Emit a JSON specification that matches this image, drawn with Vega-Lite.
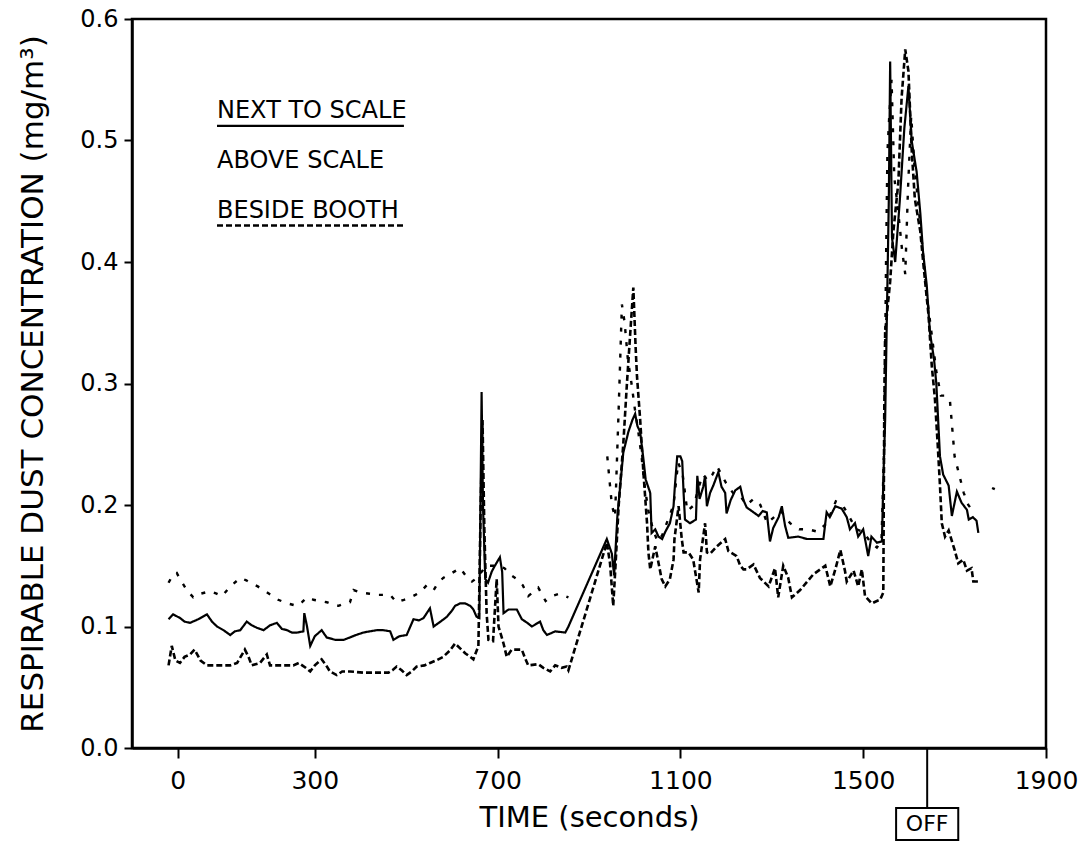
{
  "$schema": "https://vega.github.io/schema/vega-lite/v6.json",
  "width": 914,
  "height": 729,
  "autosize": {"type": "none"},
  "padding": {"left": 132, "top": 19, "right": 32, "bottom": 97},
  "background": "white",
  "config": {
    "font": "DejaVu Sans",
    "view": {"stroke": "black", "strokeWidth": 2.5},
    "axis": {"domainColor": "black", "domainWidth": 2.5, "tickColor": "black", "tickWidth": 2, "labelColor": "black", "titleColor": "black", "grid": false, "labelFont": "DejaVu Sans", "titleFont": "DejaVu Sans", "titleFontWeight": "normal"}
  },
  "datasets": {
    "series": [
      {"t": -20, "v": 0.106, "s": "NEXT TO SCALE", "seg": 1}, {"t": -10, "v": 0.110, "s": "NEXT TO SCALE", "seg": 1}, {"t": 5, "v": 0.107, "s": "NEXT TO SCALE", "seg": 1}, {"t": 15, "v": 0.104, "s": "NEXT TO SCALE", "seg": 1}, {"t": 27, "v": 0.103, "s": "NEXT TO SCALE", "seg": 1}, {"t": 45, "v": 0.106, "s": "NEXT TO SCALE", "seg": 1}, {"t": 64, "v": 0.110, "s": "NEXT TO SCALE", "seg": 1}, {"t": 75, "v": 0.104, "s": "NEXT TO SCALE", "seg": 1}, {"t": 86, "v": 0.100, "s": "NEXT TO SCALE", "seg": 1}, {"t": 100, "v": 0.097, "s": "NEXT TO SCALE", "seg": 1}, {"t": 115, "v": 0.093, "s": "NEXT TO SCALE", "seg": 1}, {"t": 125, "v": 0.096, "s": "NEXT TO SCALE", "seg": 1}, {"t": 137, "v": 0.097, "s": "NEXT TO SCALE", "seg": 1}, {"t": 151, "v": 0.104, "s": "NEXT TO SCALE", "seg": 1}, {"t": 162, "v": 0.101, "s": "NEXT TO SCALE", "seg": 1}, {"t": 173, "v": 0.099, "s": "NEXT TO SCALE", "seg": 1}, {"t": 188, "v": 0.097, "s": "NEXT TO SCALE", "seg": 1}, {"t": 202, "v": 0.101, "s": "NEXT TO SCALE", "seg": 1}, {"t": 217, "v": 0.103, "s": "NEXT TO SCALE", "seg": 1}, {"t": 228, "v": 0.098, "s": "NEXT TO SCALE", "seg": 1}, {"t": 239, "v": 0.097, "s": "NEXT TO SCALE", "seg": 1}, {"t": 250, "v": 0.095, "s": "NEXT TO SCALE", "seg": 1}, {"t": 261, "v": 0.095, "s": "NEXT TO SCALE", "seg": 1}, {"t": 275, "v": 0.096, "s": "NEXT TO SCALE", "seg": 1}, {"t": 277, "v": 0.111, "s": "NEXT TO SCALE", "seg": 1}, {"t": 283, "v": 0.100, "s": "NEXT TO SCALE", "seg": 1}, {"t": 290, "v": 0.084, "s": "NEXT TO SCALE", "seg": 1}, {"t": 300, "v": 0.092, "s": "NEXT TO SCALE", "seg": 1}, {"t": 315, "v": 0.097, "s": "NEXT TO SCALE", "seg": 1}, {"t": 326, "v": 0.091, "s": "NEXT TO SCALE", "seg": 1}, {"t": 345, "v": 0.089, "s": "NEXT TO SCALE", "seg": 1}, {"t": 363, "v": 0.089, "s": "NEXT TO SCALE", "seg": 1}, {"t": 377, "v": 0.091, "s": "NEXT TO SCALE", "seg": 1}, {"t": 390, "v": 0.093, "s": "NEXT TO SCALE", "seg": 1}, {"t": 406, "v": 0.095, "s": "NEXT TO SCALE", "seg": 1}, {"t": 420, "v": 0.096, "s": "NEXT TO SCALE", "seg": 1}, {"t": 436, "v": 0.097, "s": "NEXT TO SCALE", "seg": 1}, {"t": 450, "v": 0.097, "s": "NEXT TO SCALE", "seg": 1}, {"t": 465, "v": 0.096, "s": "NEXT TO SCALE", "seg": 1}, {"t": 472, "v": 0.089, "s": "NEXT TO SCALE", "seg": 1}, {"t": 485, "v": 0.092, "s": "NEXT TO SCALE", "seg": 1}, {"t": 501, "v": 0.093, "s": "NEXT TO SCALE", "seg": 1}, {"t": 516, "v": 0.106, "s": "NEXT TO SCALE", "seg": 1}, {"t": 528, "v": 0.105, "s": "NEXT TO SCALE", "seg": 1}, {"t": 538, "v": 0.107, "s": "NEXT TO SCALE", "seg": 1}, {"t": 552, "v": 0.115, "s": "NEXT TO SCALE", "seg": 1}, {"t": 560, "v": 0.100, "s": "NEXT TO SCALE", "seg": 1}, {"t": 575, "v": 0.104, "s": "NEXT TO SCALE", "seg": 1}, {"t": 589, "v": 0.108, "s": "NEXT TO SCALE", "seg": 1}, {"t": 600, "v": 0.113, "s": "NEXT TO SCALE", "seg": 1}, {"t": 607, "v": 0.117, "s": "NEXT TO SCALE", "seg": 1}, {"t": 618, "v": 0.119, "s": "NEXT TO SCALE", "seg": 1}, {"t": 629, "v": 0.119, "s": "NEXT TO SCALE", "seg": 1}, {"t": 640, "v": 0.117, "s": "NEXT TO SCALE", "seg": 1}, {"t": 647, "v": 0.114, "s": "NEXT TO SCALE", "seg": 1}, {"t": 654, "v": 0.108, "s": "NEXT TO SCALE", "seg": 1}, {"t": 660, "v": 0.107, "s": "NEXT TO SCALE", "seg": 1}, {"t": 665, "v": 0.293, "s": "NEXT TO SCALE", "seg": 1}, {"t": 668, "v": 0.200, "s": "NEXT TO SCALE", "seg": 1}, {"t": 673, "v": 0.139, "s": "NEXT TO SCALE", "seg": 1}, {"t": 679, "v": 0.136, "s": "NEXT TO SCALE", "seg": 1}, {"t": 687, "v": 0.145, "s": "NEXT TO SCALE", "seg": 1}, {"t": 694, "v": 0.150, "s": "NEXT TO SCALE", "seg": 1}, {"t": 705, "v": 0.157, "s": "NEXT TO SCALE", "seg": 1}, {"t": 710, "v": 0.145, "s": "NEXT TO SCALE", "seg": 1}, {"t": 713, "v": 0.111, "s": "NEXT TO SCALE", "seg": 1}, {"t": 724, "v": 0.114, "s": "NEXT TO SCALE", "seg": 1}, {"t": 742, "v": 0.114, "s": "NEXT TO SCALE", "seg": 1}, {"t": 753, "v": 0.106, "s": "NEXT TO SCALE", "seg": 1}, {"t": 765, "v": 0.103, "s": "NEXT TO SCALE", "seg": 1}, {"t": 775, "v": 0.100, "s": "NEXT TO SCALE", "seg": 1}, {"t": 793, "v": 0.104, "s": "NEXT TO SCALE", "seg": 1}, {"t": 800, "v": 0.097, "s": "NEXT TO SCALE", "seg": 1}, {"t": 808, "v": 0.093, "s": "NEXT TO SCALE", "seg": 1}, {"t": 826, "v": 0.096, "s": "NEXT TO SCALE", "seg": 1}, {"t": 848, "v": 0.095, "s": "NEXT TO SCALE", "seg": 1}, {"t": 855, "v": 0.100, "s": "NEXT TO SCALE", "seg": 1}, {"t": 939, "v": 0.172, "s": "NEXT TO SCALE", "seg": 1}, {"t": 950, "v": 0.160, "s": "NEXT TO SCALE", "seg": 1}, {"t": 955, "v": 0.142, "s": "NEXT TO SCALE", "seg": 1}, {"t": 962, "v": 0.190, "s": "NEXT TO SCALE", "seg": 1}, {"t": 975, "v": 0.243, "s": "NEXT TO SCALE", "seg": 1}, {"t": 986, "v": 0.260, "s": "NEXT TO SCALE", "seg": 1}, {"t": 995, "v": 0.270, "s": "NEXT TO SCALE", "seg": 1}, {"t": 1001, "v": 0.275, "s": "NEXT TO SCALE", "seg": 1}, {"t": 1006, "v": 0.265, "s": "NEXT TO SCALE", "seg": 1}, {"t": 1012, "v": 0.260, "s": "NEXT TO SCALE", "seg": 1}, {"t": 1019, "v": 0.238, "s": "NEXT TO SCALE", "seg": 1}, {"t": 1024, "v": 0.221, "s": "NEXT TO SCALE", "seg": 1}, {"t": 1034, "v": 0.210, "s": "NEXT TO SCALE", "seg": 1}, {"t": 1037, "v": 0.177, "s": "NEXT TO SCALE", "seg": 1}, {"t": 1045, "v": 0.180, "s": "NEXT TO SCALE", "seg": 1}, {"t": 1052, "v": 0.174, "s": "NEXT TO SCALE", "seg": 1}, {"t": 1060, "v": 0.172, "s": "NEXT TO SCALE", "seg": 1}, {"t": 1067, "v": 0.178, "s": "NEXT TO SCALE", "seg": 1}, {"t": 1077, "v": 0.185, "s": "NEXT TO SCALE", "seg": 1}, {"t": 1085, "v": 0.199, "s": "NEXT TO SCALE", "seg": 1}, {"t": 1088, "v": 0.216, "s": "NEXT TO SCALE", "seg": 1}, {"t": 1093, "v": 0.240, "s": "NEXT TO SCALE", "seg": 1}, {"t": 1100, "v": 0.240, "s": "NEXT TO SCALE", "seg": 1}, {"t": 1104, "v": 0.236, "s": "NEXT TO SCALE", "seg": 1}, {"t": 1107, "v": 0.210, "s": "NEXT TO SCALE", "seg": 1}, {"t": 1110, "v": 0.188, "s": "NEXT TO SCALE", "seg": 1}, {"t": 1121, "v": 0.185, "s": "NEXT TO SCALE", "seg": 1}, {"t": 1134, "v": 0.188, "s": "NEXT TO SCALE", "seg": 1}, {"t": 1137, "v": 0.224, "s": "NEXT TO SCALE", "seg": 1}, {"t": 1142, "v": 0.205, "s": "NEXT TO SCALE", "seg": 1}, {"t": 1150, "v": 0.215, "s": "NEXT TO SCALE", "seg": 1}, {"t": 1154, "v": 0.224, "s": "NEXT TO SCALE", "seg": 1}, {"t": 1158, "v": 0.199, "s": "NEXT TO SCALE", "seg": 1}, {"t": 1165, "v": 0.210, "s": "NEXT TO SCALE", "seg": 1}, {"t": 1172, "v": 0.216, "s": "NEXT TO SCALE", "seg": 1}, {"t": 1183, "v": 0.227, "s": "NEXT TO SCALE", "seg": 1}, {"t": 1190, "v": 0.215, "s": "NEXT TO SCALE", "seg": 1}, {"t": 1198, "v": 0.210, "s": "NEXT TO SCALE", "seg": 1}, {"t": 1201, "v": 0.193, "s": "NEXT TO SCALE", "seg": 1}, {"t": 1210, "v": 0.204, "s": "NEXT TO SCALE", "seg": 1}, {"t": 1220, "v": 0.212, "s": "NEXT TO SCALE", "seg": 1}, {"t": 1231, "v": 0.215, "s": "NEXT TO SCALE", "seg": 1}, {"t": 1238, "v": 0.204, "s": "NEXT TO SCALE", "seg": 1}, {"t": 1245, "v": 0.198, "s": "NEXT TO SCALE", "seg": 1}, {"t": 1260, "v": 0.194, "s": "NEXT TO SCALE", "seg": 1}, {"t": 1271, "v": 0.191, "s": "NEXT TO SCALE", "seg": 1}, {"t": 1280, "v": 0.195, "s": "NEXT TO SCALE", "seg": 1}, {"t": 1289, "v": 0.194, "s": "NEXT TO SCALE", "seg": 1}, {"t": 1296, "v": 0.170, "s": "NEXT TO SCALE", "seg": 1}, {"t": 1303, "v": 0.181, "s": "NEXT TO SCALE", "seg": 1}, {"t": 1315, "v": 0.190, "s": "NEXT TO SCALE", "seg": 1}, {"t": 1322, "v": 0.199, "s": "NEXT TO SCALE", "seg": 1}, {"t": 1329, "v": 0.183, "s": "NEXT TO SCALE", "seg": 1}, {"t": 1336, "v": 0.173, "s": "NEXT TO SCALE", "seg": 1}, {"t": 1358, "v": 0.174, "s": "NEXT TO SCALE", "seg": 1}, {"t": 1377, "v": 0.172, "s": "NEXT TO SCALE", "seg": 1}, {"t": 1413, "v": 0.172, "s": "NEXT TO SCALE", "seg": 1}, {"t": 1417, "v": 0.185, "s": "NEXT TO SCALE", "seg": 1}, {"t": 1420, "v": 0.194, "s": "NEXT TO SCALE", "seg": 1}, {"t": 1427, "v": 0.190, "s": "NEXT TO SCALE", "seg": 1}, {"t": 1439, "v": 0.199, "s": "NEXT TO SCALE", "seg": 1}, {"t": 1453, "v": 0.197, "s": "NEXT TO SCALE", "seg": 1}, {"t": 1464, "v": 0.190, "s": "NEXT TO SCALE", "seg": 1}, {"t": 1471, "v": 0.180, "s": "NEXT TO SCALE", "seg": 1}, {"t": 1482, "v": 0.185, "s": "NEXT TO SCALE", "seg": 1}, {"t": 1489, "v": 0.174, "s": "NEXT TO SCALE", "seg": 1}, {"t": 1500, "v": 0.180, "s": "NEXT TO SCALE", "seg": 1}, {"t": 1511, "v": 0.158, "s": "NEXT TO SCALE", "seg": 1}, {"t": 1518, "v": 0.174, "s": "NEXT TO SCALE", "seg": 1}, {"t": 1530, "v": 0.169, "s": "NEXT TO SCALE", "seg": 1}, {"t": 1541, "v": 0.170, "s": "NEXT TO SCALE", "seg": 1}, {"t": 1544, "v": 0.220, "s": "NEXT TO SCALE", "seg": 1}, {"t": 1548, "v": 0.270, "s": "NEXT TO SCALE", "seg": 1}, {"t": 1552, "v": 0.360, "s": "NEXT TO SCALE", "seg": 1}, {"t": 1556, "v": 0.450, "s": "NEXT TO SCALE", "seg": 1}, {"t": 1559, "v": 0.565, "s": "NEXT TO SCALE", "seg": 1}, {"t": 1563, "v": 0.420, "s": "NEXT TO SCALE", "seg": 1}, {"t": 1570, "v": 0.400, "s": "NEXT TO SCALE", "seg": 1}, {"t": 1580, "v": 0.450, "s": "NEXT TO SCALE", "seg": 1}, {"t": 1590, "v": 0.510, "s": "NEXT TO SCALE", "seg": 1}, {"t": 1599, "v": 0.545, "s": "NEXT TO SCALE", "seg": 1}, {"t": 1606, "v": 0.500, "s": "NEXT TO SCALE", "seg": 1}, {"t": 1617, "v": 0.474, "s": "NEXT TO SCALE", "seg": 1}, {"t": 1625, "v": 0.440, "s": "NEXT TO SCALE", "seg": 1}, {"t": 1631, "v": 0.408, "s": "NEXT TO SCALE", "seg": 1}, {"t": 1639, "v": 0.381, "s": "NEXT TO SCALE", "seg": 1}, {"t": 1646, "v": 0.342, "s": "NEXT TO SCALE", "seg": 1}, {"t": 1655, "v": 0.320, "s": "NEXT TO SCALE", "seg": 1}, {"t": 1660, "v": 0.300, "s": "NEXT TO SCALE", "seg": 1}, {"t": 1664, "v": 0.270, "s": "NEXT TO SCALE", "seg": 1}, {"t": 1668, "v": 0.240, "s": "NEXT TO SCALE", "seg": 1}, {"t": 1675, "v": 0.225, "s": "NEXT TO SCALE", "seg": 1}, {"t": 1687, "v": 0.216, "s": "NEXT TO SCALE", "seg": 1}, {"t": 1694, "v": 0.191, "s": "NEXT TO SCALE", "seg": 1}, {"t": 1705, "v": 0.211, "s": "NEXT TO SCALE", "seg": 1}, {"t": 1715, "v": 0.202, "s": "NEXT TO SCALE", "seg": 1}, {"t": 1727, "v": 0.196, "s": "NEXT TO SCALE", "seg": 1}, {"t": 1731, "v": 0.188, "s": "NEXT TO SCALE", "seg": 1}, {"t": 1740, "v": 0.190, "s": "NEXT TO SCALE", "seg": 1}, {"t": 1748, "v": 0.187, "s": "NEXT TO SCALE", "seg": 1}, {"t": 1752, "v": 0.177, "s": "NEXT TO SCALE", "seg": 1},

      {"t": -20, "v": 0.068, "s": "BESIDE BOOTH", "seg": 1}, {"t": -13, "v": 0.084, "s": "BESIDE BOOTH", "seg": 1}, {"t": -5, "v": 0.072, "s": "BESIDE BOOTH", "seg": 1}, {"t": 5, "v": 0.070, "s": "BESIDE BOOTH", "seg": 1}, {"t": 15, "v": 0.075, "s": "BESIDE BOOTH", "seg": 1}, {"t": 27, "v": 0.077, "s": "BESIDE BOOTH", "seg": 1}, {"t": 37, "v": 0.081, "s": "BESIDE BOOTH", "seg": 1}, {"t": 50, "v": 0.072, "s": "BESIDE BOOTH", "seg": 1}, {"t": 64, "v": 0.068, "s": "BESIDE BOOTH", "seg": 1}, {"t": 90, "v": 0.068, "s": "BESIDE BOOTH", "seg": 1}, {"t": 115, "v": 0.068, "s": "BESIDE BOOTH", "seg": 1}, {"t": 130, "v": 0.070, "s": "BESIDE BOOTH", "seg": 1}, {"t": 147, "v": 0.081, "s": "BESIDE BOOTH", "seg": 1}, {"t": 155, "v": 0.075, "s": "BESIDE BOOTH", "seg": 1}, {"t": 162, "v": 0.068, "s": "BESIDE BOOTH", "seg": 1}, {"t": 180, "v": 0.070, "s": "BESIDE BOOTH", "seg": 1}, {"t": 195, "v": 0.077, "s": "BESIDE BOOTH", "seg": 1}, {"t": 202, "v": 0.068, "s": "BESIDE BOOTH", "seg": 1}, {"t": 230, "v": 0.068, "s": "BESIDE BOOTH", "seg": 1}, {"t": 253, "v": 0.068, "s": "BESIDE BOOTH", "seg": 1}, {"t": 265, "v": 0.070, "s": "BESIDE BOOTH", "seg": 1}, {"t": 280, "v": 0.066, "s": "BESIDE BOOTH", "seg": 1}, {"t": 290, "v": 0.063, "s": "BESIDE BOOTH", "seg": 1}, {"t": 300, "v": 0.068, "s": "BESIDE BOOTH", "seg": 1}, {"t": 315, "v": 0.073, "s": "BESIDE BOOTH", "seg": 1}, {"t": 325, "v": 0.068, "s": "BESIDE BOOTH", "seg": 1}, {"t": 333, "v": 0.063, "s": "BESIDE BOOTH", "seg": 1}, {"t": 348, "v": 0.060, "s": "BESIDE BOOTH", "seg": 1}, {"t": 360, "v": 0.063, "s": "BESIDE BOOTH", "seg": 1}, {"t": 377, "v": 0.063, "s": "BESIDE BOOTH", "seg": 1}, {"t": 406, "v": 0.062, "s": "BESIDE BOOTH", "seg": 1}, {"t": 440, "v": 0.062, "s": "BESIDE BOOTH", "seg": 1}, {"t": 461, "v": 0.062, "s": "BESIDE BOOTH", "seg": 1}, {"t": 470, "v": 0.064, "s": "BESIDE BOOTH", "seg": 1}, {"t": 479, "v": 0.067, "s": "BESIDE BOOTH", "seg": 1}, {"t": 490, "v": 0.064, "s": "BESIDE BOOTH", "seg": 1}, {"t": 501, "v": 0.060, "s": "BESIDE BOOTH", "seg": 1}, {"t": 512, "v": 0.063, "s": "BESIDE BOOTH", "seg": 1}, {"t": 523, "v": 0.067, "s": "BESIDE BOOTH", "seg": 1}, {"t": 540, "v": 0.068, "s": "BESIDE BOOTH", "seg": 1}, {"t": 552, "v": 0.070, "s": "BESIDE BOOTH", "seg": 1}, {"t": 565, "v": 0.072, "s": "BESIDE BOOTH", "seg": 1}, {"t": 581, "v": 0.075, "s": "BESIDE BOOTH", "seg": 1}, {"t": 595, "v": 0.080, "s": "BESIDE BOOTH", "seg": 1}, {"t": 607, "v": 0.086, "s": "BESIDE BOOTH", "seg": 1}, {"t": 618, "v": 0.082, "s": "BESIDE BOOTH", "seg": 1}, {"t": 629, "v": 0.078, "s": "BESIDE BOOTH", "seg": 1}, {"t": 640, "v": 0.075, "s": "BESIDE BOOTH", "seg": 1}, {"t": 647, "v": 0.073, "s": "BESIDE BOOTH", "seg": 1}, {"t": 658, "v": 0.084, "s": "BESIDE BOOTH", "seg": 1}, {"t": 663, "v": 0.200, "s": "BESIDE BOOTH", "seg": 1}, {"t": 667, "v": 0.270, "s": "BESIDE BOOTH", "seg": 1}, {"t": 671, "v": 0.180, "s": "BESIDE BOOTH", "seg": 1}, {"t": 676, "v": 0.111, "s": "BESIDE BOOTH", "seg": 1}, {"t": 680, "v": 0.089, "s": "BESIDE BOOTH", "seg": 1}, {"t": 690, "v": 0.088, "s": "BESIDE BOOTH", "seg": 1}, {"t": 698, "v": 0.139, "s": "BESIDE BOOTH", "seg": 1}, {"t": 702, "v": 0.100, "s": "BESIDE BOOTH", "seg": 1}, {"t": 713, "v": 0.086, "s": "BESIDE BOOTH", "seg": 1}, {"t": 720, "v": 0.075, "s": "BESIDE BOOTH", "seg": 1}, {"t": 731, "v": 0.081, "s": "BESIDE BOOTH", "seg": 1}, {"t": 753, "v": 0.081, "s": "BESIDE BOOTH", "seg": 1}, {"t": 760, "v": 0.074, "s": "BESIDE BOOTH", "seg": 1}, {"t": 767, "v": 0.068, "s": "BESIDE BOOTH", "seg": 1}, {"t": 789, "v": 0.069, "s": "BESIDE BOOTH", "seg": 1}, {"t": 800, "v": 0.066, "s": "BESIDE BOOTH", "seg": 1}, {"t": 815, "v": 0.063, "s": "BESIDE BOOTH", "seg": 1}, {"t": 826, "v": 0.068, "s": "BESIDE BOOTH", "seg": 1}, {"t": 840, "v": 0.066, "s": "BESIDE BOOTH", "seg": 1}, {"t": 851, "v": 0.067, "s": "BESIDE BOOTH", "seg": 1}, {"t": 855, "v": 0.064, "s": "BESIDE BOOTH", "seg": 1}, {"t": 939, "v": 0.169, "s": "BESIDE BOOTH", "seg": 1}, {"t": 946, "v": 0.152, "s": "BESIDE BOOTH", "seg": 1}, {"t": 953, "v": 0.117, "s": "BESIDE BOOTH", "seg": 1}, {"t": 958, "v": 0.150, "s": "BESIDE BOOTH", "seg": 1}, {"t": 965, "v": 0.200, "s": "BESIDE BOOTH", "seg": 1}, {"t": 975, "v": 0.250, "s": "BESIDE BOOTH", "seg": 1}, {"t": 983, "v": 0.300, "s": "BESIDE BOOTH", "seg": 1}, {"t": 990, "v": 0.340, "s": "BESIDE BOOTH", "seg": 1}, {"t": 997, "v": 0.379, "s": "BESIDE BOOTH", "seg": 1}, {"t": 1002, "v": 0.330, "s": "BESIDE BOOTH", "seg": 1}, {"t": 1005, "v": 0.306, "s": "BESIDE BOOTH", "seg": 1}, {"t": 1012, "v": 0.270, "s": "BESIDE BOOTH", "seg": 1}, {"t": 1019, "v": 0.227, "s": "BESIDE BOOTH", "seg": 1}, {"t": 1027, "v": 0.185, "s": "BESIDE BOOTH", "seg": 1}, {"t": 1030, "v": 0.161, "s": "BESIDE BOOTH", "seg": 1}, {"t": 1034, "v": 0.147, "s": "BESIDE BOOTH", "seg": 1}, {"t": 1045, "v": 0.166, "s": "BESIDE BOOTH", "seg": 1}, {"t": 1059, "v": 0.139, "s": "BESIDE BOOTH", "seg": 1}, {"t": 1067, "v": 0.133, "s": "BESIDE BOOTH", "seg": 1}, {"t": 1077, "v": 0.139, "s": "BESIDE BOOTH", "seg": 1}, {"t": 1085, "v": 0.155, "s": "BESIDE BOOTH", "seg": 1}, {"t": 1087, "v": 0.172, "s": "BESIDE BOOTH", "seg": 1}, {"t": 1096, "v": 0.199, "s": "BESIDE BOOTH", "seg": 1}, {"t": 1103, "v": 0.172, "s": "BESIDE BOOTH", "seg": 1}, {"t": 1107, "v": 0.161, "s": "BESIDE BOOTH", "seg": 1}, {"t": 1118, "v": 0.161, "s": "BESIDE BOOTH", "seg": 1}, {"t": 1128, "v": 0.155, "s": "BESIDE BOOTH", "seg": 1}, {"t": 1140, "v": 0.128, "s": "BESIDE BOOTH", "seg": 1}, {"t": 1143, "v": 0.155, "s": "BESIDE BOOTH", "seg": 1}, {"t": 1154, "v": 0.185, "s": "BESIDE BOOTH", "seg": 1}, {"t": 1158, "v": 0.161, "s": "BESIDE BOOTH", "seg": 1}, {"t": 1165, "v": 0.160, "s": "BESIDE BOOTH", "seg": 1}, {"t": 1180, "v": 0.166, "s": "BESIDE BOOTH", "seg": 1}, {"t": 1198, "v": 0.172, "s": "BESIDE BOOTH", "seg": 1}, {"t": 1205, "v": 0.162, "s": "BESIDE BOOTH", "seg": 1}, {"t": 1223, "v": 0.158, "s": "BESIDE BOOTH", "seg": 1}, {"t": 1231, "v": 0.150, "s": "BESIDE BOOTH", "seg": 1}, {"t": 1238, "v": 0.147, "s": "BESIDE BOOTH", "seg": 1}, {"t": 1245, "v": 0.147, "s": "BESIDE BOOTH", "seg": 1}, {"t": 1260, "v": 0.151, "s": "BESIDE BOOTH", "seg": 1}, {"t": 1274, "v": 0.140, "s": "BESIDE BOOTH", "seg": 1}, {"t": 1293, "v": 0.133, "s": "BESIDE BOOTH", "seg": 1}, {"t": 1307, "v": 0.148, "s": "BESIDE BOOTH", "seg": 1}, {"t": 1314, "v": 0.124, "s": "BESIDE BOOTH", "seg": 1}, {"t": 1325, "v": 0.150, "s": "BESIDE BOOTH", "seg": 1}, {"t": 1336, "v": 0.140, "s": "BESIDE BOOTH", "seg": 1}, {"t": 1344, "v": 0.124, "s": "BESIDE BOOTH", "seg": 1}, {"t": 1362, "v": 0.130, "s": "BESIDE BOOTH", "seg": 1}, {"t": 1391, "v": 0.143, "s": "BESIDE BOOTH", "seg": 1}, {"t": 1417, "v": 0.150, "s": "BESIDE BOOTH", "seg": 1}, {"t": 1428, "v": 0.133, "s": "BESIDE BOOTH", "seg": 1}, {"t": 1439, "v": 0.147, "s": "BESIDE BOOTH", "seg": 1}, {"t": 1450, "v": 0.163, "s": "BESIDE BOOTH", "seg": 1}, {"t": 1460, "v": 0.146, "s": "BESIDE BOOTH", "seg": 1}, {"t": 1464, "v": 0.137, "s": "BESIDE BOOTH", "seg": 1}, {"t": 1479, "v": 0.146, "s": "BESIDE BOOTH", "seg": 1}, {"t": 1489, "v": 0.133, "s": "BESIDE BOOTH", "seg": 1}, {"t": 1497, "v": 0.147, "s": "BESIDE BOOTH", "seg": 1}, {"t": 1504, "v": 0.125, "s": "BESIDE BOOTH", "seg": 1}, {"t": 1519, "v": 0.119, "s": "BESIDE BOOTH", "seg": 1}, {"t": 1530, "v": 0.121, "s": "BESIDE BOOTH", "seg": 1}, {"t": 1537, "v": 0.122, "s": "BESIDE BOOTH", "seg": 1}, {"t": 1544, "v": 0.128, "s": "BESIDE BOOTH", "seg": 1}, {"t": 1546, "v": 0.273, "s": "BESIDE BOOTH", "seg": 1}, {"t": 1548, "v": 0.342, "s": "BESIDE BOOTH", "seg": 1}, {"t": 1559, "v": 0.384, "s": "BESIDE BOOTH", "seg": 1}, {"t": 1566, "v": 0.425, "s": "BESIDE BOOTH", "seg": 1}, {"t": 1577, "v": 0.466, "s": "BESIDE BOOTH", "seg": 1}, {"t": 1584, "v": 0.535, "s": "BESIDE BOOTH", "seg": 1}, {"t": 1592, "v": 0.575, "s": "BESIDE BOOTH", "seg": 1}, {"t": 1599, "v": 0.557, "s": "BESIDE BOOTH", "seg": 1}, {"t": 1606, "v": 0.493, "s": "BESIDE BOOTH", "seg": 1}, {"t": 1613, "v": 0.452, "s": "BESIDE BOOTH", "seg": 1}, {"t": 1625, "v": 0.425, "s": "BESIDE BOOTH", "seg": 1}, {"t": 1632, "v": 0.397, "s": "BESIDE BOOTH", "seg": 1}, {"t": 1643, "v": 0.356, "s": "BESIDE BOOTH", "seg": 1}, {"t": 1650, "v": 0.315, "s": "BESIDE BOOTH", "seg": 1}, {"t": 1657, "v": 0.287, "s": "BESIDE BOOTH", "seg": 1}, {"t": 1663, "v": 0.250, "s": "BESIDE BOOTH", "seg": 1}, {"t": 1668, "v": 0.216, "s": "BESIDE BOOTH", "seg": 1}, {"t": 1672, "v": 0.185, "s": "BESIDE BOOTH", "seg": 1}, {"t": 1679, "v": 0.174, "s": "BESIDE BOOTH", "seg": 1}, {"t": 1687, "v": 0.179, "s": "BESIDE BOOTH", "seg": 1}, {"t": 1700, "v": 0.163, "s": "BESIDE BOOTH", "seg": 1}, {"t": 1708, "v": 0.152, "s": "BESIDE BOOTH", "seg": 1}, {"t": 1719, "v": 0.155, "s": "BESIDE BOOTH", "seg": 1}, {"t": 1727, "v": 0.146, "s": "BESIDE BOOTH", "seg": 1}, {"t": 1737, "v": 0.148, "s": "BESIDE BOOTH", "seg": 1}, {"t": 1741, "v": 0.137, "s": "BESIDE BOOTH", "seg": 1}, {"t": 1756, "v": 0.137, "s": "BESIDE BOOTH", "seg": 1},

      {"t": -20, "v": 0.136, "s": "ABOVE SCALE", "seg": 1}, {"t": -10, "v": 0.143, "s": "ABOVE SCALE", "seg": 1}, {"t": -2, "v": 0.144, "s": "ABOVE SCALE", "seg": 1}, {"t": 5, "v": 0.139, "s": "ABOVE SCALE", "seg": 1}, {"t": 20, "v": 0.130, "s": "ABOVE SCALE", "seg": 1}, {"t": 34, "v": 0.124, "s": "ABOVE SCALE", "seg": 1}, {"t": 50, "v": 0.127, "s": "ABOVE SCALE", "seg": 1}, {"t": 71, "v": 0.129, "s": "ABOVE SCALE", "seg": 1}, {"t": 85, "v": 0.127, "s": "ABOVE SCALE", "seg": 1}, {"t": 97, "v": 0.125, "s": "ABOVE SCALE", "seg": 1}, {"t": 115, "v": 0.133, "s": "ABOVE SCALE", "seg": 1}, {"t": 137, "v": 0.140, "s": "ABOVE SCALE", "seg": 1}, {"t": 150, "v": 0.138, "s": "ABOVE SCALE", "seg": 1}, {"t": 159, "v": 0.136, "s": "ABOVE SCALE", "seg": 1}, {"t": 175, "v": 0.133, "s": "ABOVE SCALE", "seg": 1}, {"t": 188, "v": 0.130, "s": "ABOVE SCALE", "seg": 1}, {"t": 200, "v": 0.127, "s": "ABOVE SCALE", "seg": 1}, {"t": 220, "v": 0.122, "s": "ABOVE SCALE", "seg": 1}, {"t": 240, "v": 0.119, "s": "ABOVE SCALE", "seg": 1}, {"t": 261, "v": 0.117, "s": "ABOVE SCALE", "seg": 1}, {"t": 272, "v": 0.120, "s": "ABOVE SCALE", "seg": 1}, {"t": 283, "v": 0.124, "s": "ABOVE SCALE", "seg": 1}, {"t": 297, "v": 0.122, "s": "ABOVE SCALE", "seg": 1}, {"t": 312, "v": 0.121, "s": "ABOVE SCALE", "seg": 1}, {"t": 326, "v": 0.120, "s": "ABOVE SCALE", "seg": 1}, {"t": 340, "v": 0.118, "s": "ABOVE SCALE", "seg": 1}, {"t": 352, "v": 0.117, "s": "ABOVE SCALE", "seg": 1}, {"t": 365, "v": 0.119, "s": "ABOVE SCALE", "seg": 1}, {"t": 377, "v": 0.120, "s": "ABOVE SCALE", "seg": 1}, {"t": 385, "v": 0.130, "s": "ABOVE SCALE", "seg": 1}, {"t": 400, "v": 0.128, "s": "ABOVE SCALE", "seg": 1}, {"t": 420, "v": 0.127, "s": "ABOVE SCALE", "seg": 1}, {"t": 440, "v": 0.126, "s": "ABOVE SCALE", "seg": 1}, {"t": 465, "v": 0.126, "s": "ABOVE SCALE", "seg": 1}, {"t": 479, "v": 0.120, "s": "ABOVE SCALE", "seg": 1}, {"t": 495, "v": 0.122, "s": "ABOVE SCALE", "seg": 1}, {"t": 509, "v": 0.124, "s": "ABOVE SCALE", "seg": 1}, {"t": 520, "v": 0.126, "s": "ABOVE SCALE", "seg": 1}, {"t": 530, "v": 0.128, "s": "ABOVE SCALE", "seg": 1}, {"t": 545, "v": 0.134, "s": "ABOVE SCALE", "seg": 1}, {"t": 560, "v": 0.130, "s": "ABOVE SCALE", "seg": 1}, {"t": 570, "v": 0.136, "s": "ABOVE SCALE", "seg": 1}, {"t": 581, "v": 0.140, "s": "ABOVE SCALE", "seg": 1}, {"t": 600, "v": 0.144, "s": "ABOVE SCALE", "seg": 1}, {"t": 618, "v": 0.148, "s": "ABOVE SCALE", "seg": 1}, {"t": 630, "v": 0.142, "s": "ABOVE SCALE", "seg": 1}, {"t": 644, "v": 0.137, "s": "ABOVE SCALE", "seg": 1}, {"t": 655, "v": 0.140, "s": "ABOVE SCALE", "seg": 1}, {"t": 675, "v": 0.150, "s": "ABOVE SCALE", "seg": 1}, {"t": 700, "v": 0.150, "s": "ABOVE SCALE", "seg": 1}, {"t": 715, "v": 0.148, "s": "ABOVE SCALE", "seg": 1}, {"t": 730, "v": 0.142, "s": "ABOVE SCALE", "seg": 1}, {"t": 742, "v": 0.139, "s": "ABOVE SCALE", "seg": 1}, {"t": 755, "v": 0.134, "s": "ABOVE SCALE", "seg": 1}, {"t": 767, "v": 0.125, "s": "ABOVE SCALE", "seg": 1}, {"t": 789, "v": 0.132, "s": "ABOVE SCALE", "seg": 1}, {"t": 805, "v": 0.121, "s": "ABOVE SCALE", "seg": 1}, {"t": 818, "v": 0.125, "s": "ABOVE SCALE", "seg": 1}, {"t": 835, "v": 0.127, "s": "ABOVE SCALE", "seg": 1}, {"t": 855, "v": 0.124, "s": "ABOVE SCALE", "seg": 1},
      {"t": 940, "v": 0.240, "s": "ABOVE SCALE", "seg": 2}, {"t": 950, "v": 0.200, "s": "ABOVE SCALE", "seg": 2}, {"t": 957, "v": 0.190, "s": "ABOVE SCALE", "seg": 2}, {"t": 965, "v": 0.280, "s": "ABOVE SCALE", "seg": 2}, {"t": 972, "v": 0.365, "s": "ABOVE SCALE", "seg": 2}, {"t": 978, "v": 0.350, "s": "ABOVE SCALE", "seg": 2}, {"t": 985, "v": 0.320, "s": "ABOVE SCALE", "seg": 2}, {"t": 993, "v": 0.300, "s": "ABOVE SCALE", "seg": 2}, {"t": 1000, "v": 0.280, "s": "ABOVE SCALE", "seg": 2}, {"t": 1008, "v": 0.260, "s": "ABOVE SCALE", "seg": 2}, {"t": 1015, "v": 0.240, "s": "ABOVE SCALE", "seg": 2}, {"t": 1022, "v": 0.215, "s": "ABOVE SCALE", "seg": 2}, {"t": 1030, "v": 0.195, "s": "ABOVE SCALE", "seg": 2}, {"t": 1040, "v": 0.180, "s": "ABOVE SCALE", "seg": 2}, {"t": 1050, "v": 0.170, "s": "ABOVE SCALE", "seg": 2}, {"t": 1060, "v": 0.175, "s": "ABOVE SCALE", "seg": 2}, {"t": 1075, "v": 0.190, "s": "ABOVE SCALE", "seg": 2}, {"t": 1085, "v": 0.200, "s": "ABOVE SCALE", "seg": 2}, {"t": 1095, "v": 0.235, "s": "ABOVE SCALE", "seg": 2}, {"t": 1105, "v": 0.225, "s": "ABOVE SCALE", "seg": 2}, {"t": 1115, "v": 0.195, "s": "ABOVE SCALE", "seg": 2}, {"t": 1130, "v": 0.200, "s": "ABOVE SCALE", "seg": 2}, {"t": 1140, "v": 0.215, "s": "ABOVE SCALE", "seg": 2}, {"t": 1150, "v": 0.225, "s": "ABOVE SCALE", "seg": 2}, {"t": 1160, "v": 0.220, "s": "ABOVE SCALE", "seg": 2}, {"t": 1170, "v": 0.225, "s": "ABOVE SCALE", "seg": 2}, {"t": 1180, "v": 0.232, "s": "ABOVE SCALE", "seg": 2}, {"t": 1190, "v": 0.225, "s": "ABOVE SCALE", "seg": 2}, {"t": 1200, "v": 0.218, "s": "ABOVE SCALE", "seg": 2}, {"t": 1215, "v": 0.210, "s": "ABOVE SCALE", "seg": 2}, {"t": 1230, "v": 0.208, "s": "ABOVE SCALE", "seg": 2}, {"t": 1245, "v": 0.200, "s": "ABOVE SCALE", "seg": 2}, {"t": 1260, "v": 0.205, "s": "ABOVE SCALE", "seg": 2}, {"t": 1275, "v": 0.200, "s": "ABOVE SCALE", "seg": 2}, {"t": 1290, "v": 0.185, "s": "ABOVE SCALE", "seg": 2}, {"t": 1305, "v": 0.190, "s": "ABOVE SCALE", "seg": 2}, {"t": 1320, "v": 0.195, "s": "ABOVE SCALE", "seg": 2}, {"t": 1340, "v": 0.185, "s": "ABOVE SCALE", "seg": 2}, {"t": 1360, "v": 0.180, "s": "ABOVE SCALE", "seg": 2}, {"t": 1380, "v": 0.180, "s": "ABOVE SCALE", "seg": 2}, {"t": 1400, "v": 0.178, "s": "ABOVE SCALE", "seg": 2}, {"t": 1420, "v": 0.185, "s": "ABOVE SCALE", "seg": 2}, {"t": 1440, "v": 0.203, "s": "ABOVE SCALE", "seg": 2}, {"t": 1455, "v": 0.200, "s": "ABOVE SCALE", "seg": 2}, {"t": 1470, "v": 0.190, "s": "ABOVE SCALE", "seg": 2}, {"t": 1485, "v": 0.180, "s": "ABOVE SCALE", "seg": 2}, {"t": 1500, "v": 0.178, "s": "ABOVE SCALE", "seg": 2}, {"t": 1515, "v": 0.170, "s": "ABOVE SCALE", "seg": 2}, {"t": 1530, "v": 0.165, "s": "ABOVE SCALE", "seg": 2}, {"t": 1540, "v": 0.170, "s": "ABOVE SCALE", "seg": 2}, {"t": 1546, "v": 0.250, "s": "ABOVE SCALE", "seg": 2}, {"t": 1550, "v": 0.400, "s": "ABOVE SCALE", "seg": 2}, {"t": 1553, "v": 0.490, "s": "ABOVE SCALE", "seg": 2}, {"t": 1557, "v": 0.520, "s": "ABOVE SCALE", "seg": 2}, {"t": 1562, "v": 0.550, "s": "ABOVE SCALE", "seg": 2}, {"t": 1568, "v": 0.470, "s": "ABOVE SCALE", "seg": 2}, {"t": 1577, "v": 0.440, "s": "ABOVE SCALE", "seg": 2}, {"t": 1585, "v": 0.410, "s": "ABOVE SCALE", "seg": 2}, {"t": 1592, "v": 0.390, "s": "ABOVE SCALE", "seg": 2}, {"t": 1598, "v": 0.460, "s": "ABOVE SCALE", "seg": 2}, {"t": 1605, "v": 0.520, "s": "ABOVE SCALE", "seg": 2}, {"t": 1612, "v": 0.480, "s": "ABOVE SCALE", "seg": 2}, {"t": 1620, "v": 0.450, "s": "ABOVE SCALE", "seg": 2}, {"t": 1630, "v": 0.410, "s": "ABOVE SCALE", "seg": 2}, {"t": 1640, "v": 0.370, "s": "ABOVE SCALE", "seg": 2}, {"t": 1650, "v": 0.340, "s": "ABOVE SCALE", "seg": 2}, {"t": 1660, "v": 0.310, "s": "ABOVE SCALE", "seg": 2}, {"t": 1670, "v": 0.290, "s": "ABOVE SCALE", "seg": 2}, {"t": 1680, "v": 0.290, "s": "ABOVE SCALE", "seg": 2}, {"t": 1690, "v": 0.285, "s": "ABOVE SCALE", "seg": 2}, {"t": 1700, "v": 0.240, "s": "ABOVE SCALE", "seg": 2}, {"t": 1710, "v": 0.225, "s": "ABOVE SCALE", "seg": 2}, {"t": 1720, "v": 0.210, "s": "ABOVE SCALE", "seg": 2}, {"t": 1730, "v": 0.200, "s": "ABOVE SCALE", "seg": 2}, {"t": 1740, "v": 0.195, "s": "ABOVE SCALE", "seg": 2},
      {"t": 1782, "v": 0.214, "s": "ABOVE SCALE", "seg": 3}, {"t": 1788, "v": 0.213, "s": "ABOVE SCALE", "seg": 3}
    ],
    "legend": [
      {"s": "NEXT TO SCALE", "x": 86, "x2": 495, "ty": 0.5185, "uy": 0.512, "show": 1},
      {"s": "ABOVE SCALE", "x": 86, "x2": 495, "ty": 0.4775, "uy": 0.470, "show": 0},
      {"s": "BESIDE BOOTH", "x": 86, "x2": 495, "ty": 0.436, "uy": 0.430, "show": 1}
    ],
    "off": [
      {"label": "OFF", "t": 1640, "top": 0, "bottom": -0.0494, "bx": 1572, "bx2": 1708, "by": -0.0494, "by2": -0.0757, "ty": -0.0625}
    ]
  },
  "layer": [
    {
      "data": {"name": "series"},
      "mark": {"type": "line", "color": "black", "clip": true},
      "encoding": {
        "x": {"field": "t", "type": "quantitative", "scale": {"domain": [-100, 1900], "nice": false, "zero": false},
          "axis": {"values": [0, 300, 700, 1100, 1500, 1900], "format": "d", "title": "TIME (seconds)", "labelFontSize": 25, "titleFontSize": 29, "tickSize": 10, "labelPadding": 10, "titlePadding": 10, "labelFlush": false}},
        "y": {"field": "v", "type": "quantitative", "scale": {"domain": [0, 0.6], "nice": false},
          "axis": {"values": [0, 0.1, 0.2, 0.3, 0.4, 0.5, 0.6], "format": ".1f", "title": "RESPIRABLE DUST CONCENTRATION (mg/m³)", "labelFontSize": 24, "titleFontSize": 31, "titleLimit": 1000, "tickSize": 8, "labelPadding": 6, "titlePadding": 30}},
        "detail": {"field": "seg", "type": "nominal"},
        "strokeDash": {"field": "s", "type": "nominal", "scale": {"domain": ["NEXT TO SCALE", "ABOVE SCALE", "BESIDE BOOTH"], "range": [[1, 0], [4, 9], [6, 3]]}, "legend": null},
        "strokeWidth": {"field": "s", "type": "nominal", "scale": {"domain": ["NEXT TO SCALE", "ABOVE SCALE", "BESIDE BOOTH"], "range": [2.2, 2.6, 2]}, "legend": null}
      }
    },
    {
      "data": {"name": "legend"},
      "mark": {"type": "text", "align": "left", "baseline": "alphabetic", "fontSize": 24, "color": "black", "font": "DejaVu Sans"},
      "encoding": {
        "x": {"field": "x", "type": "quantitative"},
        "y": {"field": "ty", "type": "quantitative"},
        "text": {"field": "s"}
      }
    },
    {
      "data": {"name": "legend"},
      "transform": [{"filter": "datum.show == 1"}],
      "mark": {"type": "rule", "color": "black"},
      "encoding": {
        "x": {"field": "x", "type": "quantitative"},
        "x2": {"field": "x2"},
        "y": {"field": "uy", "type": "quantitative"},
        "strokeDash": {"field": "s", "type": "nominal", "legend": null},
        "strokeWidth": {"field": "s", "type": "nominal", "legend": null}
      }
    },
    {
      "data": {"name": "off"},
      "mark": {"type": "rule", "color": "black", "strokeWidth": 2, "clip": false},
      "encoding": {
        "x": {"field": "t", "type": "quantitative"},
        "y": {"field": "top", "type": "quantitative"},
        "y2": {"field": "bottom"}
      }
    },
    {
      "data": {"name": "off"},
      "mark": {"type": "rect", "fill": null, "fillOpacity": 0, "stroke": "black", "strokeWidth": 2, "clip": false},
      "encoding": {
        "x": {"field": "bx", "type": "quantitative"},
        "x2": {"field": "bx2"},
        "y": {"field": "by", "type": "quantitative"},
        "y2": {"field": "by2"}
      }
    },
    {
      "data": {"name": "off"},
      "mark": {"type": "text", "fontSize": 22, "color": "black", "align": "center", "baseline": "middle", "font": "DejaVu Sans", "clip": false},
      "encoding": {
        "x": {"field": "t", "type": "quantitative"},
        "y": {"field": "ty", "type": "quantitative"},
        "text": {"field": "label"}
      }
    }
  ]
}
